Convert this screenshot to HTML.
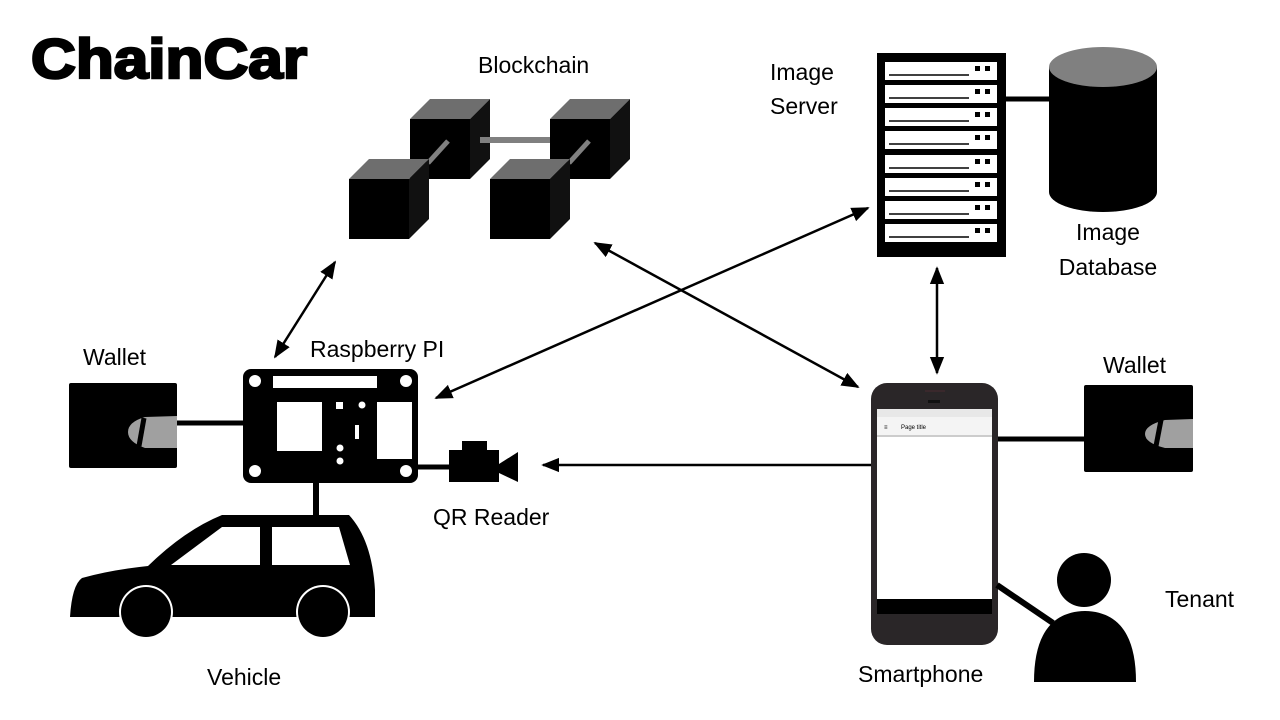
<!DOCTYPE html>
<html><head><meta charset="utf-8"><style>
html,body{margin:0;padding:0;background:#fff;}
svg{display:block}
text{font-family:"Liberation Sans",sans-serif;fill:#000}
</style></head><body>
<svg width="1280" height="720" viewBox="0 0 1280 720" xmlns="http://www.w3.org/2000/svg">
<defs>
<marker id="a2" viewBox="0 0 10 10" refX="9" refY="5" markerWidth="18" markerHeight="18" orient="auto-start-reverse" markerUnits="userSpaceOnUse">
<path d="M0,1 L10,5 L0,9 z" fill="#000"/>
</marker>
</defs>

<text x="31" y="78" font-size="56" font-weight="bold" stroke="#000" stroke-width="2.5" textLength="276" lengthAdjust="spacingAndGlyphs">ChainCar</text>
<text x="478" y="73" font-size="23">Blockchain</text>

<g>
<polygon points="410,119 430,99 490,99 470,119" fill="#6e6e6e"/>
<polygon points="470,119 490,99 490,159 470,179" fill="#111"/>
<rect x="410" y="119" width="60" height="60" fill="#000"/>
<polygon points="550,119 570,99 630,99 610,119" fill="#6e6e6e"/>
<polygon points="610,119 630,99 630,159 610,179" fill="#111"/>
<rect x="550" y="119" width="60" height="60" fill="#000"/>
<rect x="480" y="137" width="70" height="6" fill="#808080"/>
<line x1="448" y1="141" x2="428" y2="163" stroke="#808080" stroke-width="5"/>
<line x1="589" y1="141" x2="569" y2="163" stroke="#808080" stroke-width="5"/>
<polygon points="349,179 369,159 429,159 409,179" fill="#6e6e6e"/>
<polygon points="409,179 429,159 429,219 409,239" fill="#111"/>
<rect x="349" y="179" width="60" height="60" fill="#000"/>
<polygon points="490,179 510,159 570,159 550,179" fill="#6e6e6e"/>
<polygon points="550,179 570,159 570,219 550,239" fill="#111"/>
<rect x="490" y="179" width="60" height="60" fill="#000"/>
</g>

<text x="770" y="80" font-size="23">Image</text>
<text x="770" y="114" font-size="23">Server</text>
<rect x="877" y="53" width="129" height="204" fill="#000"/>
<g fill="#fff">
<rect x="885" y="62" width="112" height="18"/>
<rect x="885" y="85" width="112" height="18"/>
<rect x="885" y="108" width="112" height="18"/>
<rect x="885" y="131" width="112" height="18"/>
<rect x="885" y="155" width="112" height="18"/>
<rect x="885" y="178" width="112" height="18"/>
<rect x="885" y="201" width="112" height="18"/>
<rect x="885" y="224" width="112" height="18"/>
</g>
<g stroke="#000" stroke-width="1.5">
<line x1="889" y1="75" x2="969" y2="75"/><line x1="889" y1="98" x2="969" y2="98"/>
<line x1="889" y1="121" x2="969" y2="121"/><line x1="889" y1="144" x2="969" y2="144"/>
<line x1="889" y1="168" x2="969" y2="168"/><line x1="889" y1="191" x2="969" y2="191"/>
<line x1="889" y1="214" x2="969" y2="214"/><line x1="889" y1="237" x2="969" y2="237"/>
</g>
<g fill="#000">
<rect x="975" y="66" width="5" height="5"/><rect x="985" y="66" width="5" height="5"/>
<rect x="975" y="89" width="5" height="5"/><rect x="985" y="89" width="5" height="5"/>
<rect x="975" y="112" width="5" height="5"/><rect x="985" y="112" width="5" height="5"/>
<rect x="975" y="135" width="5" height="5"/><rect x="985" y="135" width="5" height="5"/>
<rect x="975" y="159" width="5" height="5"/><rect x="985" y="159" width="5" height="5"/>
<rect x="975" y="182" width="5" height="5"/><rect x="985" y="182" width="5" height="5"/>
<rect x="975" y="205" width="5" height="5"/><rect x="985" y="205" width="5" height="5"/>
<rect x="975" y="228" width="5" height="5"/><rect x="985" y="228" width="5" height="5"/>
</g>
<line x1="1006" y1="99" x2="1050" y2="99" stroke="#000" stroke-width="5"/>
<path d="M1049,67 L1049,192 A54,20 0 0 0 1157,192 L1157,67 Z" fill="#000"/>
<ellipse cx="1103" cy="67" rx="54" ry="20" fill="#808080"/>
<text x="1108" y="240" font-size="23" text-anchor="middle">Image</text>
<text x="1108" y="275" font-size="23" text-anchor="middle">Database</text>

<g stroke="#000" stroke-width="2.5" fill="none">
<line x1="335" y1="262" x2="275" y2="357" marker-start="url(#a2)" marker-end="url(#a2)"/>
<line x1="595" y1="243" x2="858" y2="387" marker-start="url(#a2)" marker-end="url(#a2)"/>
<line x1="868" y1="208" x2="436" y2="398" marker-start="url(#a2)" marker-end="url(#a2)"/>
<line x1="937" y1="268" x2="937" y2="373" marker-start="url(#a2)" marker-end="url(#a2)"/>
<line x1="871" y1="465" x2="543" y2="465" marker-end="url(#a2)"/>
</g>

<text x="83" y="365" font-size="23">Wallet</text>
<rect x="69" y="383" width="108" height="85" rx="2" fill="#000"/>
<path d="M177,416 L145,417 Q128,422 128,432 Q128,442 145,448 L177,448 Z" fill="#a0a0a0"/>
<line x1="144" y1="418" x2="139" y2="446" stroke="#000" stroke-width="5"/>
<line x1="177" y1="423" x2="244" y2="423" stroke="#000" stroke-width="5"/>

<text x="310" y="357" font-size="23">Raspberry PI</text>
<rect x="243" y="369" width="175" height="114" rx="8" fill="#000"/>
<g fill="#fff">
<circle cx="255" cy="381" r="6"/><circle cx="406" cy="381" r="6"/>
<circle cx="255" cy="471" r="6"/><circle cx="406" cy="471" r="6"/>
<rect x="273" y="376" width="104" height="12"/>
<rect x="277" y="402" width="45" height="49"/>
<rect x="377" y="402" width="35" height="57"/>
<rect x="336" y="402" width="7" height="7"/>
<circle cx="362" cy="405" r="3.5"/>
<rect x="355" y="425" width="4" height="14"/>
<circle cx="340" cy="448" r="3.5"/><circle cx="340" cy="461" r="3.5"/>
</g>
<line x1="418" y1="467" x2="450" y2="467" stroke="#000" stroke-width="5"/>
<rect x="449" y="450" width="50" height="32" fill="#000"/>
<rect x="462" y="441" width="25" height="10" fill="#000"/>
<polygon points="499,464 518,452 518,482 499,473" fill="#000"/>
<text x="433" y="525" font-size="23">QR Reader</text>

<line x1="316" y1="483" x2="316" y2="516" stroke="#000" stroke-width="6"/>
<path d="M222,515 L349,515 Q372,540 375,590 L375,617 L70,617 Q72,585 82,578 Q110,570 148,566 Q185,530 222,515 Z" fill="#000"/>
<polygon points="171,565 222,527 260,527 260,565" fill="#fff"/>
<polygon points="272,527 339,527 350,565 272,565" fill="#fff"/>
<circle cx="146" cy="612" r="27" fill="#fff"/>
<circle cx="146" cy="612" r="25" fill="#000"/>
<circle cx="323" cy="612" r="27" fill="#fff"/>
<circle cx="323" cy="612" r="25" fill="#000"/>
<text x="207" y="685" font-size="23">Vehicle</text>

<rect x="871" y="383" width="127" height="262" rx="16" fill="#2a2628"/>
<rect x="877" y="409" width="115" height="205" fill="#fff"/>
<rect x="877" y="409" width="115" height="8" fill="#e8e8e8"/>
<rect x="877" y="417" width="115" height="18" fill="#f4f4f4"/>
<rect x="877" y="435" width="115" height="2" fill="#ccc"/>
<text x="901" y="429" font-size="6" fill="#444">Page title</text>
<text x="884" y="429" font-size="6" fill="#666">≡</text>
<rect x="877" y="599" width="115" height="15" fill="#000"/>
<rect x="928" y="400" width="12" height="3" fill="#111"/>
<line x1="925" y1="391" x2="945" y2="391" stroke="#4a2a30" stroke-width="1"/>
<text x="858" y="682" font-size="23">Smartphone</text>

<line x1="998" y1="439" x2="1085" y2="439" stroke="#000" stroke-width="5"/>
<text x="1103" y="373" font-size="23">Wallet</text>
<rect x="1084" y="385" width="109" height="87" rx="2" fill="#000"/>
<path d="M1193,419 L1165,420 Q1145,425 1145,434 Q1145,443 1165,448 L1193,448 Z" fill="#a0a0a0"/>
<line x1="1161" y1="420" x2="1156" y2="446" stroke="#000" stroke-width="5"/>

<line x1="997" y1="585" x2="1053" y2="623" stroke="#000" stroke-width="6"/>
<circle cx="1084" cy="580" r="27" fill="#000"/>
<path d="M1034,682 Q1034,612 1085,611 Q1136,612 1136,682 Z" fill="#000"/>
<text x="1165" y="607" font-size="23">Tenant</text>
</svg>
</body></html>
